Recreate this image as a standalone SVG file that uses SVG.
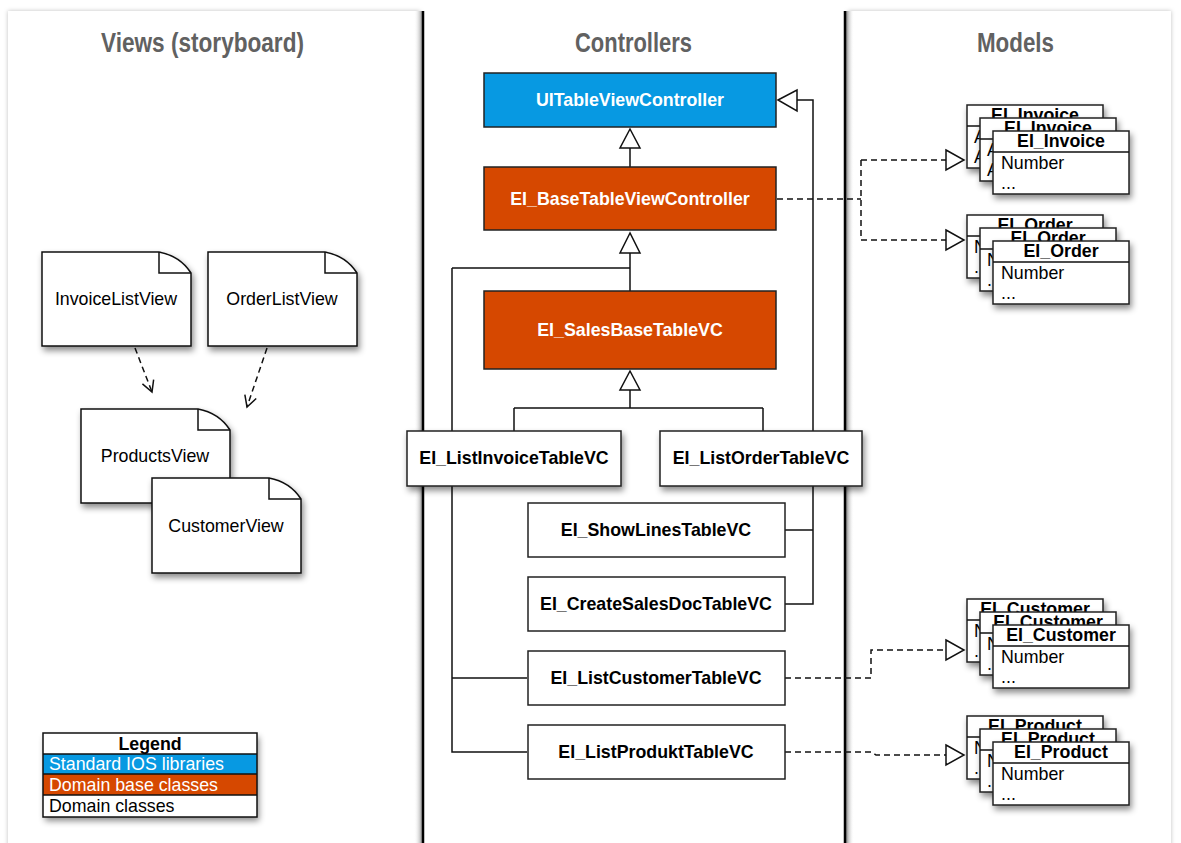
<svg xmlns="http://www.w3.org/2000/svg" width="1181" height="843" viewBox="0 0 1181 843">
<style>
.hdr{font-family:"Liberation Sans",Arial,sans-serif;font-weight:bold;font-size:27px;fill:#616161}
.bt{font-family:"Liberation Sans",Arial,sans-serif;font-weight:bold;font-size:17.8px;text-anchor:middle}
.rt{font-family:"Liberation Sans",Arial,sans-serif;font-size:17.8px}
.w{fill:#fff}
.k{fill:#000}
.box{stroke:#222;stroke-width:1.5}
.blue{fill:#0799E2}
.orange{fill:#D64800}
.white{fill:#fff}
.ln{fill:none;stroke:#111;stroke-width:1.5}
.dash{fill:none;stroke:#111;stroke-width:1.5;stroke-dasharray:6,4}
.tri{fill:#fff;stroke:#111;stroke-width:1.5}
</style>
<defs>
<filter id="sh" x="-20%" y="-20%" width="150%" height="160%">
<feDropShadow dx="2" dy="4" stdDeviation="3" flood-color="#000" flood-opacity="0.45"/>
</filter>
<filter id="psh" x="-5%" y="-5%" width="110%" height="110%">
<feDropShadow dx="0" dy="0" stdDeviation="2" flood-color="#000" flood-opacity="0.25"/>
</filter>
<linearGradient id="gl" x1="0" y1="0" x2="1" y2="0">
<stop offset="0" stop-color="#fff" stop-opacity="0"/>
<stop offset="1" stop-color="#888"/>
</linearGradient>
<linearGradient id="gr" x1="0" y1="0" x2="1" y2="0">
<stop offset="0" stop-color="#888"/>
<stop offset="1" stop-color="#fff" stop-opacity="0"/>
</linearGradient>
<marker id="va" markerWidth="14" markerHeight="14" refX="12" refY="7" orient="auto" markerUnits="userSpaceOnUse">
<path d="M1,1 L12,7 L1,13" fill="none" stroke="#111" stroke-width="1.5"/>
</marker>
</defs>
<rect x="0" y="0" width="1181" height="843" fill="#fff"/>
<g id="panels">
<rect x="8" y="11" width="412" height="850" fill="#fff" filter="url(#psh)"/>
<rect x="848" y="11" width="323" height="850" fill="#fff" filter="url(#psh)"/>
<rect x="423" y="11" width="422" height="832" fill="#fff"/>
<rect x="414" y="11" width="9" height="832" fill="url(#gl)"/>
<rect x="846" y="11" width="8" height="832" fill="url(#gr)"/>
<line x1="423" y1="11" x2="423" y2="843" stroke="#000" stroke-width="2.5"/>
<line x1="845" y1="11" x2="845" y2="843" stroke="#000" stroke-width="2.5"/>
<text class="hdr" x="101" y="52" textLength="203" lengthAdjust="spacingAndGlyphs">Views (storyboard)</text>
<text class="hdr" x="575" y="52" textLength="117" lengthAdjust="spacingAndGlyphs">Controllers</text>
<text class="hdr" x="977" y="52" textLength="77" lengthAdjust="spacingAndGlyphs">Models</text>
</g>
<g id="connectors">
<path class="ln" d="M452,268 H630 M452,268 V752 H527 M452,678 H527"/>
<path class="ln" d="M797,100 H813 V604 H785 M813,530 H785"/>
<path class="ln" d="M630,148 V167 M630,253 V291 M630,390 V408 M514,408 H763 M514,408 V431 M763,408 V431"/>
<polygon class="tri" points="630,129 620,148 640,148"/>
<polygon class="tri" points="630,233 620,253 640,253"/>
<polygon class="tri" points="630,371 620,390 640,390"/>
<polygon class="tri" points="778,100 797,90 797,111"/>
<path class="dash" d="M777,199 H861 M861,160 V240 M861,160 H946 M861,240 H946"/>
<path class="dash" d="M785,678 H871 V650 H946"/>
<path class="dash" d="M785,752 H872 L876,755 H946"/>
<polygon class="tri" points="946,150 964,160 946,170"/>
<polygon class="tri" points="946,230 964,240 946,250"/>
<polygon class="tri" points="946,640 964,650 946,660"/>
<polygon class="tri" points="946,745 964,755 946,765"/>
<path class="dash" d="M135,348 L152,392" marker-end="url(#va)"/>
<path class="dash" d="M267,348 L247,407" marker-end="url(#va)"/>
</g>
<g id="InvoiceListView">
<path d="M42,252 H159 Q180,256 191,273 V346 H42 Z" fill="#fff" stroke="#111" stroke-width="1.5" filter="url(#sh)"/>
<path class="ln" d="M159,252 V273 H191"/>
<text class="rt" x="116" y="305" text-anchor="middle">InvoiceListView</text>
</g>
<g id="OrderListView">
<path d="M208,252 H325 Q346,256 357,273 V346 H208 Z" fill="#fff" stroke="#111" stroke-width="1.5" filter="url(#sh)"/>
<path class="ln" d="M325,252 V273 H357"/>
<text class="rt" x="282" y="305" text-anchor="middle">OrderListView</text>
</g>
<g id="ProductsView">
<path d="M81,409 H198 Q219,413 230,430 V503 H81 Z" fill="#fff" stroke="#111" stroke-width="1.5" filter="url(#sh)"/>
<path class="ln" d="M198,409 V430 H230"/>
<text class="rt" x="155" y="462" text-anchor="middle">ProductsView</text>
</g>
<g id="CustomerView">
<path d="M152,478 H269 Q290,482 301,499 V573 H152 Z" fill="#fff" stroke="#111" stroke-width="1.5" filter="url(#sh)"/>
<path class="ln" d="M269,478 V499 H301"/>
<text class="rt" x="226" y="532" text-anchor="middle">CustomerView</text>
</g>
<g id="UITableViewController">
<rect class="box blue" x="484" y="73" width="292" height="54"/>
<text class="bt w" x="630" y="106">UITableViewController</text>
</g>
<g id="EI_BaseTableViewController">
<rect class="box orange" x="484" y="167" width="292" height="63"/>
<text class="bt w" x="630" y="205">EI_BaseTableViewController</text>
</g>
<g id="EI_SalesBaseTableVC">
<rect class="box orange" x="484" y="291" width="292" height="78"/>
<text class="bt w" x="630" y="336">EI_SalesBaseTableVC</text>
</g>
<g id="EI_ListInvoiceTableVC">
<rect class="box white" x="407" y="431" width="214" height="55" filter="url(#sh)"/>
<text class="bt k" x="514" y="464">EI_ListInvoiceTableVC</text>
</g>
<g id="EI_ListOrderTableVC">
<rect class="box white" x="660" y="431" width="202" height="55" filter="url(#sh)"/>
<text class="bt k" x="761" y="464">EI_ListOrderTableVC</text>
</g>
<g id="EI_ShowLinesTableVC">
<rect class="box white" x="528" y="503" width="257" height="54"/>
<text class="bt k" x="656" y="536">EI_ShowLinesTableVC</text>
</g>
<g id="EI_CreateSalesDocTableVC">
<rect class="box white" x="528" y="577" width="257" height="54"/>
<text class="bt k" x="656" y="610">EI_CreateSalesDocTableVC</text>
</g>
<g id="EI_ListCustomerTableVC">
<rect class="box white" x="528" y="651" width="257" height="54"/>
<text class="bt k" x="656" y="684">EI_ListCustomerTableVC</text>
</g>
<g id="EI_ListProduktTableVC">
<rect class="box white" x="528" y="725" width="257" height="54"/>
<text class="bt k" x="656" y="758">EI_ListProduktTableVC</text>
</g>
<g id="EI_Invoice">
<g filter="url(#sh)"><rect class="box white" x="967" y="105" width="136" height="63"/><line class="ln" x1="967" y1="126" x2="1103" y2="126"/></g>
<text class="bt k" x="1035" y="121">EI_Invoice</text><text class="rt" x="974" y="143">A</text><text class="rt" x="974" y="163">A</text>
<g filter="url(#sh)"><rect class="box white" x="980" y="118" width="136" height="63"/><line class="ln" x1="980" y1="139" x2="1116" y2="139"/></g>
<text class="bt k" x="1048" y="134">EI_Invoice</text><text class="rt" x="987" y="156">A</text><text class="rt" x="987" y="176">A</text>
<g filter="url(#sh)"><rect class="box white" x="993" y="131" width="136" height="63"/><line class="ln" x1="993" y1="152" x2="1129" y2="152"/></g>
<text class="bt k" x="1061" y="147">EI_Invoice</text><text class="rt" x="1001" y="169">Number</text><text class="rt" x="1001" y="189">...</text>
</g>
<g id="EI_Order">
<g filter="url(#sh)"><rect class="box white" x="967" y="215" width="136" height="63"/><line class="ln" x1="967" y1="236" x2="1103" y2="236"/></g>
<text class="bt k" x="1035" y="231">EI_Order</text><text class="rt" x="974" y="253">Number</text><text class="rt" x="974" y="273">...</text>
<g filter="url(#sh)"><rect class="box white" x="980" y="228" width="136" height="63"/><line class="ln" x1="980" y1="249" x2="1116" y2="249"/></g>
<text class="bt k" x="1048" y="244">EI_Order</text><text class="rt" x="987" y="266">Number</text><text class="rt" x="987" y="286">...</text>
<g filter="url(#sh)"><rect class="box white" x="993" y="241" width="136" height="63"/><line class="ln" x1="993" y1="262" x2="1129" y2="262"/></g>
<text class="bt k" x="1061" y="257">EI_Order</text><text class="rt" x="1001" y="279">Number</text><text class="rt" x="1001" y="299">...</text>
</g>
<g id="EI_Customer">
<g filter="url(#sh)"><rect class="box white" x="967" y="599" width="136" height="63"/><line class="ln" x1="967" y1="620" x2="1103" y2="620"/></g>
<text class="bt k" x="1035" y="615">EI_Customer</text><text class="rt" x="974" y="637">Number</text><text class="rt" x="974" y="657">...</text>
<g filter="url(#sh)"><rect class="box white" x="980" y="612" width="136" height="63"/><line class="ln" x1="980" y1="633" x2="1116" y2="633"/></g>
<text class="bt k" x="1048" y="628">EI_Customer</text><text class="rt" x="987" y="650">Number</text><text class="rt" x="987" y="670">...</text>
<g filter="url(#sh)"><rect class="box white" x="993" y="625" width="136" height="63"/><line class="ln" x1="993" y1="646" x2="1129" y2="646"/></g>
<text class="bt k" x="1061" y="641">EI_Customer</text><text class="rt" x="1001" y="663">Number</text><text class="rt" x="1001" y="683">...</text>
</g>
<g id="EI_Product">
<g filter="url(#sh)"><rect class="box white" x="967" y="716" width="136" height="63"/><line class="ln" x1="967" y1="737" x2="1103" y2="737"/></g>
<text class="bt k" x="1035" y="732">EI_Product</text><text class="rt" x="974" y="754">Number</text><text class="rt" x="974" y="774">...</text>
<g filter="url(#sh)"><rect class="box white" x="980" y="729" width="136" height="63"/><line class="ln" x1="980" y1="750" x2="1116" y2="750"/></g>
<text class="bt k" x="1048" y="745">EI_Product</text><text class="rt" x="987" y="767">Number</text><text class="rt" x="987" y="787">...</text>
<g filter="url(#sh)"><rect class="box white" x="993" y="742" width="136" height="63"/><line class="ln" x1="993" y1="763" x2="1129" y2="763"/></g>
<text class="bt k" x="1061" y="758">EI_Product</text><text class="rt" x="1001" y="780">Number</text><text class="rt" x="1001" y="800">...</text>
</g>
<g id="Legend">
<rect x="43" y="733" width="214" height="84" fill="#fff" filter="url(#sh)"/>
<rect class="blue" x="43" y="754" width="214" height="20"/>
<rect class="orange" x="43" y="774" width="214" height="21"/>
<rect x="43" y="733" width="214" height="84" fill="none" stroke="#111" stroke-width="1.5"/>
<path class="ln" d="M43,754 H257 M43,774 H257 M43,795 H257"/>
<text class="bt k" x="150" y="750">Legend</text>
<text class="rt w" x="49" y="770">Standard IOS libraries</text>
<text class="rt w" x="49" y="791">Domain base classes</text>
<text class="rt k" x="49" y="812">Domain classes</text>
</g>
</svg>
